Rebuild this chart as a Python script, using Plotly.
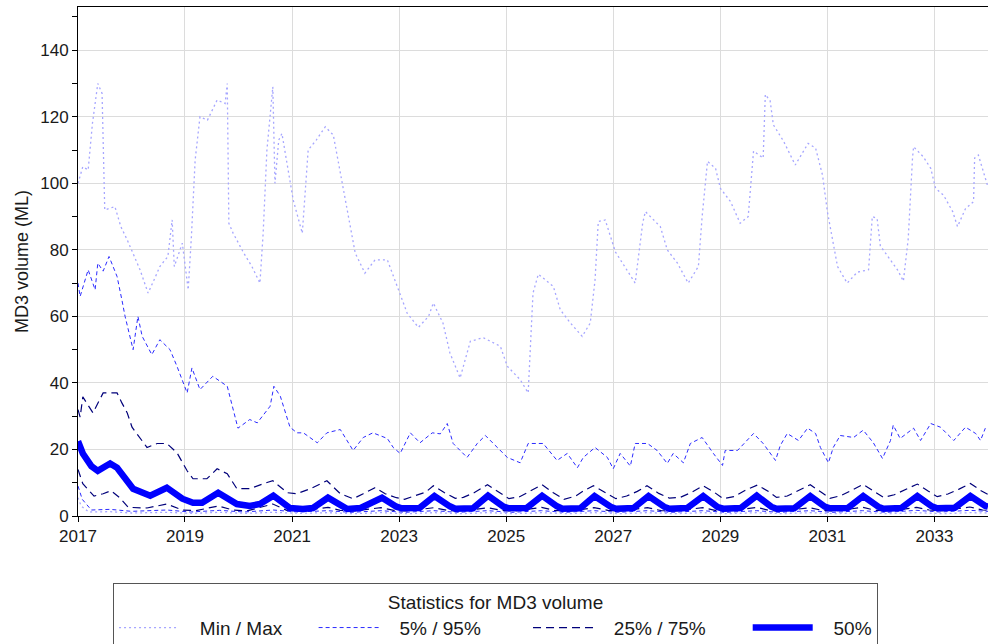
from datetime import datetime

import plotly.graph_objects as go

# Values: decimal year -> MD3 volume (ML)
MAX_T = [2017.00, 2017.09, 2017.19, 2017.27, 2017.37, 2017.45, 2017.50, 2017.69, 2017.80, 2017.92,
         2018.16, 2018.31, 2018.45, 2018.53, 2018.68, 2018.76, 2018.80, 2018.95, 2019.06, 2019.12,
         2019.19, 2019.28, 2019.42, 2019.60, 2019.75, 2019.79, 2019.82, 2019.90, 2020.10, 2020.25,
         2020.40, 2020.46, 2020.53, 2020.64, 2020.68, 2020.75, 2020.81, 2020.92, 2021.02, 2021.19,
         2021.30, 2021.45, 2021.62, 2021.77, 2021.95, 2022.18, 2022.36, 2022.55, 2022.78, 2022.96,
         2023.15, 2023.36, 2023.55, 2023.64, 2023.82, 2023.95, 2024.14, 2024.27, 2024.33, 2024.57,
         2024.89, 2025.02, 2025.26, 2025.41, 2025.50, 2025.60, 2025.88, 2026.01, 2026.20, 2026.42,
         2026.57, 2026.66, 2026.72, 2026.85, 2027.04, 2027.41, 2027.55, 2027.60, 2027.69, 2027.88,
         2028.01, 2028.20, 2028.40, 2028.59, 2028.66, 2028.76, 2028.91, 2029.00, 2029.19, 2029.37,
         2029.52, 2029.62, 2029.80, 2029.84, 2029.93, 2029.99, 2030.18, 2030.40, 2030.64, 2030.78,
         2030.91, 2031.00, 2031.19, 2031.37, 2031.56, 2031.77, 2031.84, 2031.93, 2031.99, 2032.14,
         2032.31, 2032.42, 2032.51, 2032.59, 2032.61, 2032.79, 2032.93, 2033.02, 2033.17, 2033.34,
         2033.43, 2033.58, 2033.73, 2033.75, 2033.82, 2033.99]
MAX_V = [100, 105, 104, 118, 130, 127, 92, 93, 87, 83,
         74, 67, 72, 75, 78, 89, 75, 82, 68, 84,
         107, 120, 119, 125, 124, 130, 88, 85, 79, 75,
         70, 85, 110, 129, 100, 113, 115, 105, 95, 85,
         110, 113, 117, 114.5, 99, 79, 73, 77, 77, 69,
         61, 56.7, 60, 64, 58, 49, 41.5, 49, 52.5, 53.6,
         51, 45, 41, 37, 67, 72.7, 69, 62, 58, 54,
         58, 71, 88.5, 89, 79.4, 70, 88, 91.5, 90, 87,
         80, 76, 70, 75, 90, 106.6, 104.5, 98.5, 94.5, 88,
         90, 109.7, 107.6, 126.7, 124.8, 117.6, 112.7, 105.5, 112, 110.6,
         102.4, 91.5, 75, 70, 73.3, 74, 90, 89.4, 81.2, 78,
         74, 70.6, 83.3, 107.6, 111, 108, 104.5, 98.5, 96.4, 91.5,
         87, 92.4, 94.5, 107.6, 108.5, 99.4]

P95_T = [2017.00, 2017.04, 2017.19, 2017.32, 2017.37, 2017.47, 2017.58, 2017.73, 2017.82, 2017.88,
         2018.03, 2018.12, 2018.20, 2018.38, 2018.53, 2018.72, 2018.85, 2019.04, 2019.13, 2019.28,
         2019.52, 2019.79, 2019.99, 2020.21, 2020.35, 2020.59, 2020.66, 2020.78, 2020.96, 2021.09,
         2021.21, 2021.47, 2021.65, 2021.90, 2022.14, 2022.33, 2022.51, 2022.78, 2022.89, 2023.02,
         2023.21, 2023.39, 2023.62, 2023.77, 2023.90, 2024.01, 2024.27, 2024.46, 2024.61, 2024.83,
         2025.02, 2025.26, 2025.41, 2025.69, 2025.95, 2026.14, 2026.33, 2026.44, 2026.66, 2026.89,
         2027.00, 2027.13, 2027.32, 2027.41, 2027.64, 2027.82, 2028.01, 2028.12, 2028.31, 2028.44,
         2028.66, 2028.87, 2029.04, 2029.09, 2029.32, 2029.62, 2029.80, 2030.03, 2030.12, 2030.25,
         2030.46, 2030.63, 2030.78, 2030.87, 2031.02, 2031.11, 2031.24, 2031.49, 2031.67, 2031.86,
         2032.03, 2032.18, 2032.23, 2032.36, 2032.61, 2032.74, 2032.93, 2033.11, 2033.36, 2033.58,
         2033.77, 2033.86, 2033.95]
P95_V = [70, 66, 74, 68, 76, 73.6, 78, 72, 65, 60,
         50, 60, 54, 48.5, 53, 50, 45, 37, 44.5, 38,
         42, 39, 26.4, 29, 28, 33, 39, 36, 26.7, 25,
         25, 22, 25, 26, 19.7, 23.6, 25, 23.3, 20.6, 18.8,
         25, 22, 25, 24.7, 27.8, 21.8, 17.6, 21.8, 24.2, 20.6,
         17.6, 16, 21.8, 21.8, 16.7, 18.8, 14.5, 17.6, 20.6, 17.6,
         14.2, 18.8, 15, 21.8, 21.8, 19.7, 15.8, 18.8, 16, 21.8,
         23.6, 18.8, 15.2, 19.7, 19.7, 24.8, 21.8, 16.7, 21.2, 24.8,
         22.7, 26.4, 24.8, 20.6, 16, 20.6, 24.2, 23.6, 25.8, 22,
         17.3, 22.7, 27.3, 23.3, 26.4, 22.7, 27.8, 26.7, 22.7, 26.7,
         24.8, 22.7, 26.4]

P75_T = [2017.00, 2017.04, 2017.09, 2017.28, 2017.47, 2017.73, 2017.82, 2017.92, 2018.01, 2018.20,
         2018.29, 2018.48, 2018.66, 2018.85, 2019.04, 2019.15, 2019.41, 2019.60, 2019.79, 2019.97,
         2020.21, 2020.46, 2020.64, 2020.91, 2021.09, 2021.34, 2021.65, 2021.90, 2022.14, 2022.33,
         2022.55, 2022.74, 2022.95, 2023.10, 2023.35, 2023.50, 2023.64, 2023.85, 2024.05, 2024.20,
         2024.40, 2024.65, 2024.85, 2025.05, 2025.25, 2025.45, 2025.67, 2025.88, 2026.08, 2026.30,
         2026.45, 2026.63, 2026.85, 2027.05, 2027.25, 2027.45, 2027.63, 2027.85, 2028.05, 2028.25,
         2028.45, 2028.68, 2028.88, 2029.05, 2029.25, 2029.45, 2029.69, 2029.90, 2030.05, 2030.25,
         2030.45, 2030.68, 2030.88, 2031.05, 2031.25, 2031.45, 2031.67, 2031.88, 2032.05, 2032.25,
         2032.45, 2032.68, 2032.88, 2033.05, 2033.25, 2033.45, 2033.67, 2033.88, 2034.00]
P75_V = [32, 29.7, 35.8, 31, 37, 37, 34, 31, 26.7, 22.7,
         20.6, 21.8, 21.8, 19, 13.6, 11.2, 11.2, 14.2, 12.7, 8.2,
         8.2, 9.7, 10.6, 7.0, 6.7, 8.2, 10.6, 6.7, 5.2, 6.7,
         8.5, 6.7, 5.5, 5.0, 6.5, 7.2, 9.1, 7.0, 5.3, 5.6,
         7.0, 9.4, 7.3, 5.2, 5.8, 7.4, 9.4, 7.0, 5.0, 6.0,
         7.6, 9.1, 7.0, 5.2, 6.0, 7.4, 9.1, 6.8, 5.4, 5.6,
         7.0, 9.1, 7.2, 5.2, 5.8, 7.6, 9.3, 7.4, 5.6, 6.0,
         7.6, 9.4, 7.2, 5.3, 6.1, 7.8, 9.5, 7.3, 5.6, 6.4,
         7.9, 9.6, 7.5, 5.8, 6.6, 8.0, 9.8, 7.5, 6.5]

P50_T = [2017.00, 2017.09, 2017.25, 2017.37, 2017.60, 2017.73, 2018.03, 2018.35, 2018.66, 2018.95,
         2019.15, 2019.32, 2019.62, 2019.97, 2020.21, 2020.40, 2020.65, 2020.96, 2021.20, 2021.39,
         2021.67, 2022.03, 2022.28, 2022.68, 2022.95, 2023.05, 2023.38, 2023.66, 2023.95, 2024.05,
         2024.38, 2024.66, 2024.95, 2025.05, 2025.38, 2025.67, 2025.95, 2026.05, 2026.38, 2026.65,
         2026.95, 2027.05, 2027.38, 2027.66, 2027.95, 2028.05, 2028.38, 2028.68, 2028.95, 2029.05,
         2029.38, 2029.68, 2029.95, 2030.05, 2030.38, 2030.68, 2030.95, 2031.05, 2031.38, 2031.67,
         2031.95, 2032.05, 2032.38, 2032.68, 2032.95, 2033.05, 2033.38, 2033.67, 2033.95, 2034.00]
P50_V = [22.5, 18.8, 15, 13.6, 15.8, 14.5, 8.2, 6.1, 8.5, 5.2,
         4, 4, 7, 3.6, 3, 3.6, 6.1, 2.4, 2.1, 2.4,
         5.5, 2.1, 2.4, 5.5, 2.8, 2.3, 2.4, 6.0, 2.9, 2.2,
         2.3, 6.1, 2.8, 2.3, 2.4, 6.1, 2.9, 2.2, 2.3, 6.0,
         2.8, 2.2, 2.4, 6.0, 2.8, 2.2, 2.4, 6.0, 2.7, 2.2,
         2.4, 6.1, 2.8, 2.2, 2.3, 6.0, 2.8, 2.3, 2.4, 6.0,
         2.8, 2.2, 2.4, 6.0, 2.9, 2.3, 2.5, 6.0, 3.0, 2.8]

P25_T = [2017.00, 2017.09, 2017.30, 2017.47, 2017.62, 2017.78, 2017.94, 2018.29, 2018.66, 2018.95,
         2019.20, 2019.62, 2019.90, 2020.15, 2020.64, 2020.90, 2021.15, 2021.67, 2021.90, 2022.15,
         2022.66, 2022.90, 2023.15, 2023.65, 2023.90, 2024.15, 2024.65, 2024.90, 2025.15, 2025.66,
         2025.90, 2026.15, 2026.64, 2026.90, 2027.15, 2027.64, 2027.90, 2028.15, 2028.67, 2028.90,
         2029.15, 2029.68, 2029.90, 2030.15, 2030.67, 2030.90, 2031.15, 2031.66, 2031.90, 2032.15,
         2032.67, 2032.90, 2033.15, 2033.66, 2033.90, 2034.00]
P25_V = [14, 9.7, 6.0, 6.7, 7.6, 5.5, 2.6, 2.4, 3.6, 1.8,
         1.6, 3.0, 1.8, 1.5, 3.6, 1.7, 1.5, 2.6, 1.7, 1.5,
         2.5, 1.7, 1.5, 2.5, 1.7, 1.4, 2.5, 1.7, 1.5, 2.6,
         1.7, 1.4, 2.5, 1.7, 1.5, 2.5, 1.6, 1.5, 2.5, 1.7,
         1.5, 2.6, 1.7, 1.5, 2.5, 1.7, 1.5, 2.6, 1.7, 1.5,
         2.6, 1.8, 1.6, 2.7, 1.8, 1.7]

P5_T = [2017.00, 2017.08, 2017.25, 2017.60, 2018.00, 2018.66, 2019.10, 2019.65, 2020.10, 2020.65,
        2021.10, 2021.66, 2022.10, 2022.66, 2023.10, 2023.65, 2024.10, 2024.65, 2025.10, 2025.66,
        2026.10, 2026.64, 2027.10, 2027.64, 2028.10, 2028.67, 2029.10, 2029.68, 2030.10, 2030.67,
        2031.10, 2031.66, 2032.10, 2032.67, 2033.10, 2033.66, 2034.00]
P5_V = [9, 5, 1.8, 2.0, 1.4, 1.8, 1.2, 1.7, 1.2, 1.8,
        1.2, 1.6, 1.1, 1.6, 1.1, 1.6, 1.1, 1.6, 1.1, 1.6,
        1.1, 1.6, 1.1, 1.6, 1.1, 1.6, 1.1, 1.6, 1.1, 1.6,
        1.1, 1.6, 1.1, 1.7, 1.2, 1.7, 1.4]

MIN_T = [2017.00, 2017.06, 2017.20, 2017.60, 2018.00, 2018.66, 2019.15, 2019.65, 2020.15, 2020.65,
         2021.15, 2021.66, 2022.15, 2022.66, 2023.15, 2023.65, 2024.15, 2024.65, 2025.15, 2025.66,
         2026.15, 2026.64, 2027.15, 2027.64, 2028.15, 2028.67, 2029.15, 2029.68, 2030.15, 2030.67,
         2031.15, 2031.66, 2032.15, 2032.67, 2033.15, 2033.66, 2034.00]
MIN_V = [5.5, 3, 1.2, 1.3, 0.9, 1.1, 0.8, 1.1, 0.8, 1.1,
         0.8, 1.0, 0.7, 1.0, 0.7, 1.0, 0.7, 1.0, 0.7, 1.0,
         0.7, 1.0, 0.7, 1.0, 0.7, 1.0, 0.7, 1.0, 0.7, 1.0,
         0.7, 1.0, 0.7, 1.0, 0.7, 1.0, 0.9]

LEGEND_LABELS = ["Min / Max", "5% / 95%", "25% / 75%", "50%"]
LEGEND_TITLE = "Statistics for MD3 volume"

FONT = "Liberation Sans, Arial, sans-serif"
NB = "\u00a0"
# trailing padding so legend entries sit where they do in the reference
PAD_AFTER = {"Min / Max": 5, "5% / 95%": 8, "25% / 75%": 7, "50%": 0}


def to_date(dec_year):
    year = int(dec_year)
    start = datetime(year, 1, 1)
    end = datetime(year + 1, 1, 1)
    return start + (end - start) * (dec_year - year)


def dates(ts):
    return [to_date(t) for t in ts]


def legend_name(label):
    return NB * 3 + label + NB * PAD_AFTER[label]


# name, times, values, legend label (None = hidden), colour, width, dash
series = [
    ("Max", MAX_T, MAX_V, LEGEND_LABELS[0], "#a6a6ff", 1.3, "2px,3px"),
    ("95%", P95_T, P95_V, LEGEND_LABELS[1], "#2b2bff", 1, "4px,3px"),
    ("75%", P75_T, P75_V, LEGEND_LABELS[2], "#00007a", 1.2, "8px,5px"),
    ("25%", P25_T, P25_V, None, "#00007a", 1.2, "8px,5px"),
    ("5%", P5_T, P5_V, None, "#2b2bff", 1, "4px,3px"),
    ("Min", MIN_T, MIN_V, None, "#a6a6ff", 1.3, "2px,3px"),
    ("50%", P50_T, P50_V, LEGEND_LABELS[3], "#0000ff", 6.5, "solid"),
]

fig = go.Figure()
for name, ts, vs, label, colour, width, dash in series:
    fig.add_trace(
        go.Scatter(
            x=dates(ts),
            y=vs,
            mode="lines",
            name=legend_name(label) if label else name,
            showlegend=label is not None,
            legendrank=LEGEND_LABELS.index(label) + 1 if label else 10,
            line=dict(color=colour, width=width, dash=dash),
        )
    )

fig.update_layout(
    width=988,
    height=644,
    margin=dict(l=78, r=0, t=7, b=128),
    paper_bgcolor="white",
    plot_bgcolor="white",
    font=dict(family=FONT, size=17, color="#1a1a1a"),
    xaxis=dict(
        type="date",
        range=[datetime(2017, 1, 1), datetime(2034, 1, 1)],
        tick0="2017-01-01",
        dtick="M24",
        tickformat="%Y",
        ticks="outside",
        ticklen=5,
        tickcolor="#000000",
        showline=True,
        linecolor="#000000",
        linewidth=1,
        mirror=True,
        showgrid=True,
        gridcolor="#dcdcdc",
        zeroline=False,
        tickfont=dict(size=17),
    ),
    yaxis=dict(
        range=[0, 153],
        dtick=20,
        ticks="outside",
        ticklen=5,
        tickcolor="#000000",
        minor=dict(dtick=10, ticks="outside", ticklen=5, tickcolor="#000000", showgrid=False),
        showline=True,
        linecolor="#000000",
        linewidth=1,
        showgrid=True,
        gridcolor="#dcdcdc",
        zeroline=False,
        title=dict(text="MD3 volume (ML)", font=dict(size=18), standoff=6),
        tickfont=dict(size=17),
    ),
    legend=dict(
        orientation="h",
        x=0.0385,
        xanchor="left",
        yref="container",
        y=1 - 583 / 644,
        yanchor="top",
        title=dict(text=LEGEND_TITLE, side="top center", font=dict(size=19)),
        bordercolor="#555555",
        borderwidth=1,
        itemwidth=60,
        font=dict(size=19),
    ),
)

fig.write_html(
    "out.html",
    config={"displayModeBar": False},
    post_script="document.body.style.margin='0';",
)
